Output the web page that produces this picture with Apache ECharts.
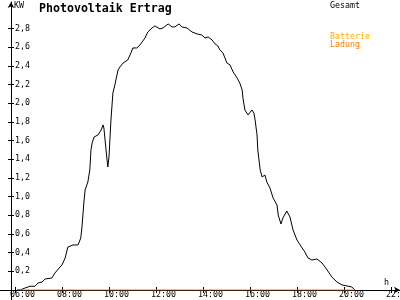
<!DOCTYPE html>
<html><head><meta charset="utf-8">
<script src="https://cdn.jsdelivr.net/npm/echarts@6/dist/echarts.min.js"></script>
<style>html,body{margin:0;padding:0;background:#fff}#c{width:400px;height:300px}</style>
</head><body><div id="c"></div>
<script>
const times = ["06:05","06:13","06:25","06:38","06:51","06:59","07:09","07:17","07:22","07:34","07:42","07:47","07:55","08:00","08:08","08:15","08:28","08:41","08:48","08:51","08:54","08:56","08:59","09:06","09:11","09:14","09:17","09:22","09:32","09:40","09:45","09:47","09:50","09:55","09:57","10:00","10:05","10:10","10:15","10:23","10:28","10:36","10:48","10:56","11:01","11:11","11:19","11:32","11:39","11:50","11:57","12:10","12:18","12:31","12:41","12:48","12:59","13:06","13:19","13:32","13:45","13:57","14:05","14:13","14:23","14:31","14:38","14:43","14:51","15:01","15:09","15:17","15:27","15:34","15:40","15:42","15:47","15:55","16:00","16:05","16:10","16:13","16:18","16:20","16:26","16:31","16:38","16:43","16:51","16:59","17:09","17:12","17:19","17:24","17:34","17:42","17:50","18:00","18:08","18:20","18:28","18:38","18:51","19:04","19:17","19:29","19:42","19:55","20:08","20:20","20:28"];
const gesamt = [0,0,0.02,0.04,0.04,0.075,0.086,0.118,0.128,0.128,0.182,0.193,0.246,0.268,0.343,0.46,0.482,0.482,0.557,0.675,0.835,0.942,1.07,1.156,1.285,1.5,1.574,1.638,1.66,1.713,1.767,1.734,1.606,1.392,1.317,1.424,1.82,2.109,2.195,2.355,2.388,2.43,2.463,2.538,2.591,2.591,2.623,2.698,2.762,2.805,2.827,2.795,2.805,2.848,2.816,2.816,2.848,2.816,2.805,2.762,2.741,2.73,2.698,2.709,2.677,2.634,2.612,2.57,2.538,2.431,2.409,2.334,2.27,2.216,2.141,2.056,1.927,1.874,1.895,1.927,1.895,1.82,1.66,1.499,1.285,1.21,1.231,1.156,1.092,0.985,0.91,0.803,0.707,0.771,0.846,0.782,0.642,0.535,0.482,0.407,0.343,0.321,0.332,0.289,0.214,0.139,0.086,0.054,0.043,0.032,0];
const ladungTimes = ["06:13","20:28"];
const ladung = [0,0];
const batterie = [];
const xTickLabels = ["06:00","08:00","10:00","12:00","14:00","16:00","18:00","20:00","22:00"];
const yTickValues = [0.2,0.4,0.6,0.8,1.0,1.2,1.4,1.6,1.8,2.0,2.2,2.4,2.6,2.8];

const toMin = s => { const p = s.split(':').map(Number); return p[0]*60 + p[1]; };
const xTickVals = xTickLabels.map(toMin);
const FONT = 'DejaVu Sans Mono';
const X_MIN = 349.8, X_MAX = 1343, Y_MAX = 3.083;

const chart = echarts.init(document.getElementById('c'), null, {renderer:'canvas'});
chart.setOption({
  animation: false,
  backgroundColor: '#fff',
  title: {text: 'Photovoltaik Ertrag', left: 39, top: 2.5, padding: 0,
    textStyle: {fontFamily: FONT, fontWeight: 'bold', fontSize: 11.6, color: '#000'}},
  legend: [
    {data: [{name: 'Gesamt', textStyle: {color: '#000'}}], left: 325, top: 1.5, padding: 0, icon: 'none',
     itemWidth: 0, itemHeight: 8, selectedMode: false, textStyle: {fontFamily: FONT, fontSize: 8.3}},
    {data: [{name: 'Batterie', textStyle: {color: '#ffaa00'}}, {name: 'Ladung', textStyle: {color: '#ff7f00'}}],
     orient: 'vertical', left: 325, top: 33, padding: 0, itemGap: 0, icon: 'none', itemWidth: 0, itemHeight: 8,
     selectedMode: false, textStyle: {fontFamily: FONT, fontSize: 8.3}}
  ],
  grid: {left: 11, right: 0, top: 2, bottom: 10, containLabel: false, outerBoundsMode: 'none'},
  xAxis: [
    {type: 'value', min: X_MIN, max: X_MAX, name: 'h', nameLocation: 'end', nameGap: 0,
     nameTextStyle: {align: 'right', verticalAlign: 'bottom', padding: [0, 11, 3, 0], fontFamily: FONT, fontSize: 8.3, color: '#000'},
     axisLine: {lineStyle: {color: '#000', width: 1}, symbol: ['none', 'arrow'], symbolSize: [5, 6]},
     axisTick: {customValues: xTickVals, length: 3, lineStyle: {color: '#000'}},
     axisLabel: {customValues: xTickVals, margin: 1, fontFamily: FONT, fontSize: 8.3, color: '#000',
       formatter: v => '{s|}' + xTickLabels[xTickVals.indexOf(v)],
       rich: {s: {width: 15}}},
     splitLine: {show: false}},
    {type: 'value', min: X_MIN, max: X_MAX, position: 'bottom', axisLine: {show: false},
     axisTick: {customValues: xTickVals, inside: true, length: 3, lineStyle: {color: '#000'}},
     axisLabel: {show: false}, splitLine: {show: false}}
  ],
  yAxis: [
    {type: 'value', min: 0, max: Y_MAX, name: 'KW', nameLocation: 'end', nameGap: 0,
     nameTextStyle: {align: 'left', verticalAlign: 'top', padding: [0, 0, 0, 3], fontFamily: FONT, fontSize: 8.3, color: '#000'},
     axisLine: {lineStyle: {color: '#000', width: 1}, symbol: ['none', 'arrow'], symbolSize: [5, 6]},
     axisTick: {customValues: yTickValues, length: 3, lineStyle: {color: '#000'}},
     axisLabel: {customValues: yTickValues, inside: true, margin: 4, fontFamily: FONT, fontSize: 8.3, color: '#000',
       formatter: v => v.toFixed(1).replace('.', ',')},
     splitLine: {show: false}},
    {type: 'value', min: 0, max: Y_MAX, position: 'left', axisLine: {show: false},
     axisTick: {customValues: yTickValues, inside: true, length: 3, lineStyle: {color: '#000'}},
     axisLabel: {show: false}, splitLine: {show: false}}
  ],
  graphic: [
    {type: 'line', shape: {x1: 0, y1: 290.5, x2: 11, y2: 290.5}, style: {stroke: '#000', lineWidth: 1}},
    {type: 'line', shape: {x1: 11.5, y1: 290, x2: 11.5, y2: 300}, style: {stroke: '#000', lineWidth: 1}}
  ],
  series: [
    {name: 'Gesamt', type: 'line', showSymbol: false, z: 2, color: '#000',
     lineStyle: {color: '#000', width: 1},
     data: times.map((t, i) => [toMin(t), gesamt[i]])},
    {name: 'Batterie', type: 'line', showSymbol: false, color: '#ffaa00',
     data: batterie},
    {name: 'Ladung', type: 'line', showSymbol: false, z: 3, color: '#ff7f00',
     lineStyle: {color: '#ff7f00', width: 1},
     data: ladungTimes.map((t, i) => [toMin(t), ladung[i]])}
  ]
});
</script></body></html>
